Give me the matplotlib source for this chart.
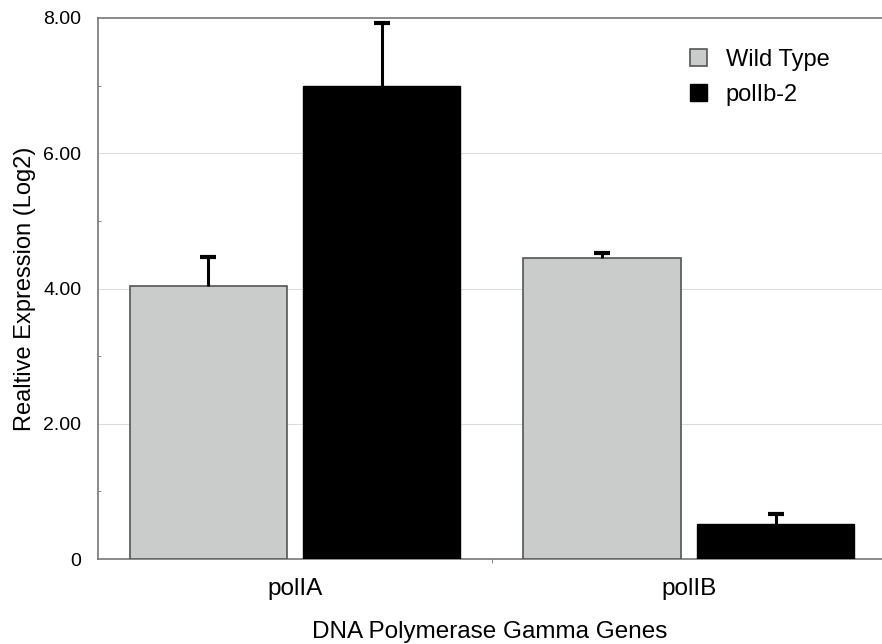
import matplotlib
matplotlib.use("Agg")
import matplotlib.pyplot as plt
import numpy as np

plt.rcParams['font.family'] = ['Liberation Sans', 'DejaVu Sans']

genes = ["polIA", "polIB"]
series = ["Wild Type", "polIb-2"]
wild_type = [4.03, 4.45]
wild_type_err = [0.44, 0.07]
mutant = [7.00, 0.52]
mutant_err = [0.92, 0.15]
ytick_vals = [0, 2, 4, 6, 8]
ytick_labels = ["0", "2.00", "4.00", "6.00", "8.00"]

fig = plt.figure(figsize=(8.82, 6.44), dpi=100)
ax = fig.add_axes([98/882, 1 - 559/644, (882-98)/882, (559-18)/644])

x = np.arange(len(genes))
w = 0.4
off = 0.22
ax.bar(x - off, wild_type, width=w, color="#c9cccb", edgecolor="#555555", linewidth=1.2, label=series[0], zorder=3)
ax.bar(x + off, mutant, width=w, color="black", edgecolor="black", linewidth=1.0, label=series[1], zorder=3)
for xs, vals, errs in [(x - off, wild_type, wild_type_err), (x + off, mutant, mutant_err)]:
    _, caps, _ = ax.errorbar(xs, vals, yerr=[np.zeros(2), errs], fmt="none", ecolor="black",
                             elinewidth=2.2, capsize=6, capthick=3, zorder=4)
    caps[0].set_visible(False)

ax.set_ylim(0, 8)
ax.set_xlim(-0.5, 1.49)
ax.set_yticks(ytick_vals)
ax.set_yticklabels(ytick_labels, fontsize=14)
ax.set_yticks([1, 3, 5, 7], minor=True)
ax.tick_params(axis='y', which='major', length=0, pad=12)
ax.tick_params(axis='y', which='minor', length=2, direction='in', color='#777777')
ax.set_xticks(x)
ax.set_xticklabels(genes, fontsize=17.5)
ax.set_xticks([0.5], minor=True)
ax.tick_params(axis='x', which='major', length=0, pad=14)
ax.tick_params(axis='x', which='minor', length=3, direction='out', color='#777777')

for v in [2, 4, 6]:
    ax.axhline(v, color="#dddddd", linewidth=0.8, zorder=1)

for s in ["left", "top", "bottom"]:
    ax.spines[s].set_color("#777777")
    ax.spines[s].set_linewidth(1.2)
ax.spines["right"].set_visible(False)

ax.set_ylabel("Realtive Expression (Log2)", fontsize=17, labelpad=5)
ax.set_xlabel("DNA Polymerase Gamma Genes", fontsize=17.5, labelpad=15)

leg = ax.legend(loc="upper left", bbox_to_anchor=(0.728, 0.982), frameon=False, fontsize=17,
                handlelength=0.72, handleheight=0.72, handletextpad=0.8, labelspacing=0.55)

fig.savefig("out.png", dpi=100)
